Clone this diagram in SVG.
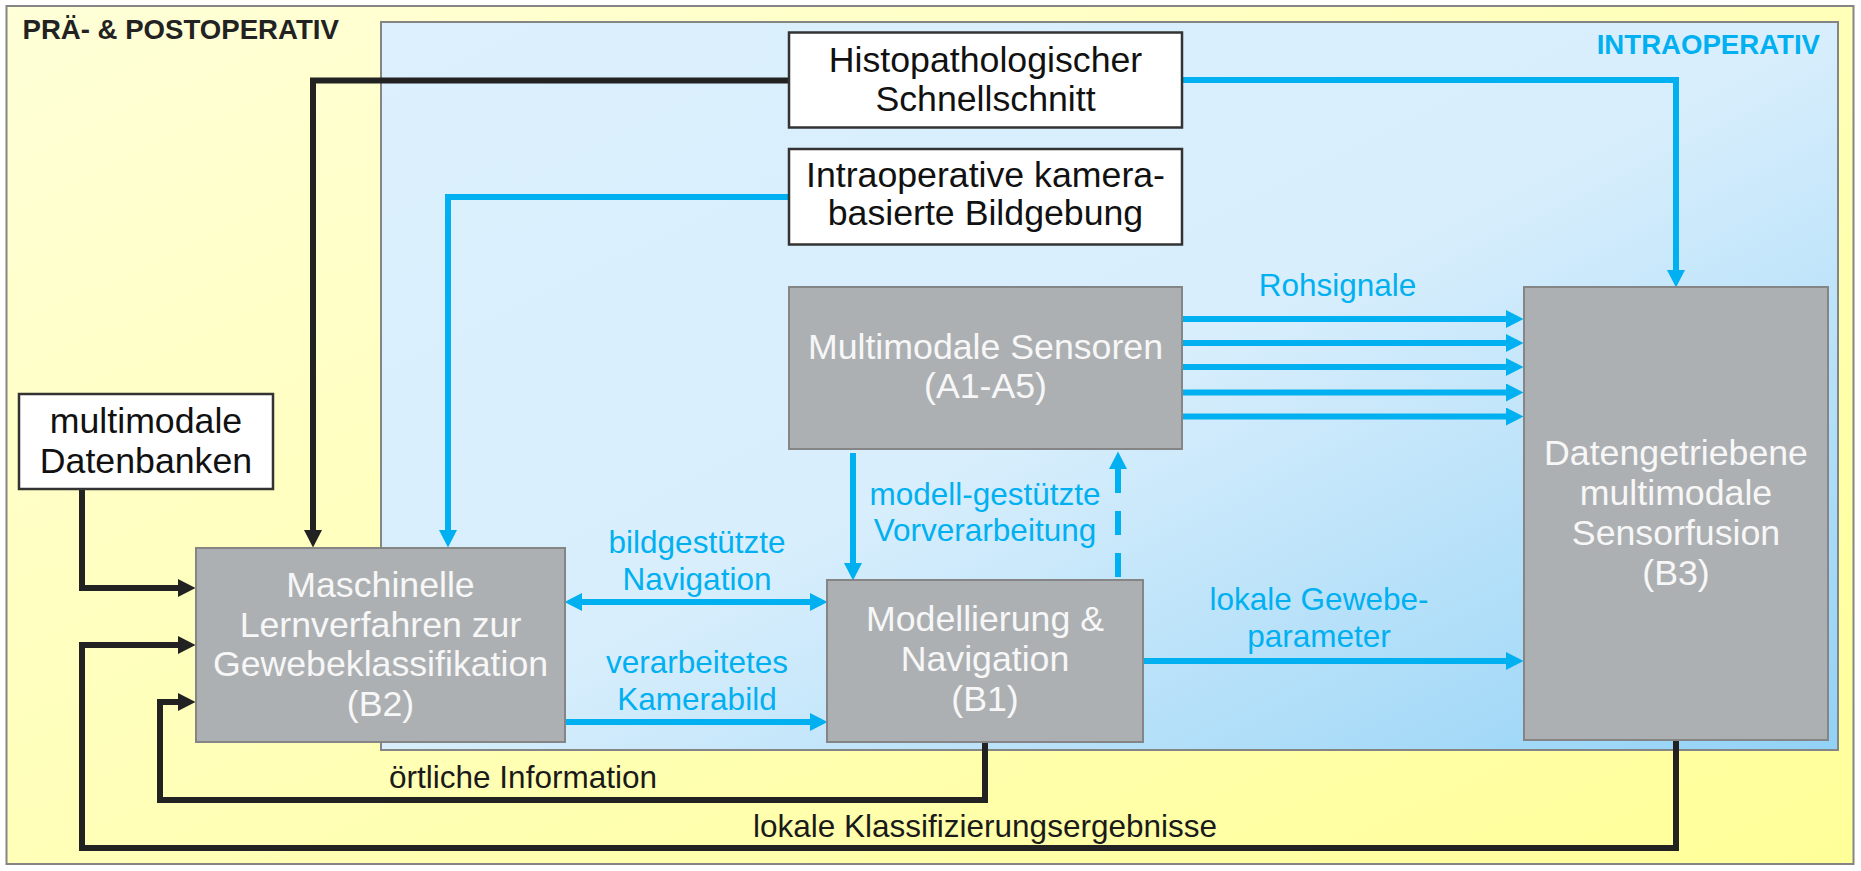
<svg xmlns="http://www.w3.org/2000/svg" width="1861" height="871" viewBox="0 0 1861 871">
  <defs>
    <linearGradient id="gYellow" x1="0" y1="0" x2="1" y2="1">
      <stop offset="0" stop-color="#ffffd8"/>
      <stop offset="1" stop-color="#ffff99"/>
    </linearGradient>
    <linearGradient id="gBlue" x1="0" y1="0" x2="1" y2="1">
      <stop offset="0" stop-color="#dcf0fd"/>
      <stop offset="0.5" stop-color="#d8eefc"/>
      <stop offset="1" stop-color="#92d2f6"/>
    </linearGradient>
    <marker id="aBlue" markerUnits="userSpaceOnUse" markerWidth="18" markerHeight="18" refX="0" refY="9" orient="auto-start-reverse" viewBox="0 0 18 18">
      <path d="M0,0 L17.5,9 L0,18 Z" fill="#00b0f0"/>
    </marker>
    <marker id="aBlack" markerUnits="userSpaceOnUse" markerWidth="18" markerHeight="18" refX="0" refY="9" orient="auto-start-reverse" viewBox="0 0 18 18">
      <path d="M0,0 L17.5,9 L0,18 Z" fill="#222222"/>
    </marker>
    <style>
      .white rect { fill: #ffffff; stroke: #333333; stroke-width: 2.5; }
      .gray rect { fill: #adb0b3; stroke: #858585; stroke-width: 2; }
      .node text { font-family: "Liberation Sans", Arial, sans-serif; font-size: 35.7px; text-anchor: middle; }
      .white text { fill: #111111; }
      .gray text { fill: #f7f7f7; }
      .lbl { font-family: "Liberation Sans", Arial, sans-serif; font-size: 31.5px; text-anchor: middle; fill: #00b0f0; }
      .lblk { font-family: "Liberation Sans", Arial, sans-serif; font-size: 31.5px; text-anchor: middle; fill: #1a1a1a; }
      .title { font-family: "Liberation Sans", Arial, sans-serif; font-size: 27.6px; font-weight: bold; }
      .cb { fill: none; stroke: #00b0f0; stroke-width: 6; marker-end: url(#aBlue); }
      .ck { fill: none; stroke: #222222; stroke-width: 6; marker-end: url(#aBlack); }
    </style>
  </defs>

  <g id="regions">
    <rect x="6.5" y="6" width="1847" height="858" fill="url(#gYellow)" stroke="#858585" stroke-width="2"/>
    <rect x="381" y="22" width="1457" height="728" fill="url(#gBlue)" stroke="#858585" stroke-width="2"/>
    <text class="title" x="22.5" y="39" fill="#222222">PRÄ- &amp; POSTOPERATIV</text>
    <text class="title" x="1820" y="54" fill="#00b0f0" text-anchor="end">INTRAOPERATIV</text>
  </g>

  <g id="connectors">
    <!-- black -->
    <path class="ck" d="M789,80.5 H313 V530"/>
    <path class="ck" d="M82,489 V588 H178"/>
    <path class="ck" d="M1676,740 V848 H82 V645 H178"/>
    <path class="ck" d="M985,742 V800 H160 V702 H178"/>
    <!-- blue -->
    <path class="cb" d="M1182,80 H1676 V270"/>
    <path class="cb" d="M789,197 H448 V530"/>
    <path class="cb" d="M1182,319 H1506"/>
    <path class="cb" d="M1182,343 H1506"/>
    <path class="cb" d="M1182,367 H1506"/>
    <path class="cb" d="M1182,392.5 H1506"/>
    <path class="cb" d="M1182,416.5 H1506"/>
    <path class="cb" d="M853,453 V563"/>
    <path class="cb" d="M1118,577 V469" stroke-dasharray="24 18"/>
    <path class="cb" d="M582,602 H810" marker-start="url(#aBlue)"/>
    <path class="cb" d="M565,722 H810"/>
    <path class="cb" d="M1143,661 H1506"/>
    <!-- labels -->
    <text class="lbl" x="1337.5" y="296">Rohsignale</text>
    <text class="lbl" x="985" y="505">modell-gestützte</text>
    <text class="lbl" x="985" y="541">Vorverarbeitung</text>
    <text class="lbl" x="697" y="553">bildgestützte</text>
    <text class="lbl" x="697" y="590">Navigation</text>
    <text class="lbl" x="697" y="673">verarbeitetes</text>
    <text class="lbl" x="697" y="710">Kamerabild</text>
    <text class="lbl" x="1319" y="610">lokale Gewebe-</text>
    <text class="lbl" x="1319" y="647">parameter</text>
    <text class="lblk" x="523" y="787.5">örtliche Information</text>
    <text class="lblk" x="985" y="836.5">lokale Klassifizierungsergebnisse</text>
  </g>

  <g id="histo" class="node white">
    <rect x="789" y="32.5" width="393" height="95"/>
    <text x="985.5" y="72.3">Histopathologischer</text>
    <text x="985.5" y="111">Schnellschnitt</text>
  </g>

  <g id="kamera" class="node white">
    <rect x="789" y="149" width="393" height="95.5"/>
    <text x="985.5" y="187">Intraoperative kamera-</text>
    <text x="985.5" y="225">basierte Bildgebung</text>
  </g>

  <g id="datenbanken" class="node white">
    <rect x="19" y="394" width="254" height="95"/>
    <text x="146" y="433.3">multimodale</text>
    <text x="146" y="473">Datenbanken</text>
  </g>

  <g id="sensoren" class="node gray">
    <rect x="789" y="287" width="393" height="162"/>
    <text x="985.5" y="359">Multimodale Sensoren</text>
    <text x="985.5" y="398">(A1-A5)</text>
  </g>

  <g id="b3" class="node gray">
    <rect x="1524" y="287" width="304" height="453"/>
    <text x="1676" y="465">Datengetriebene</text>
    <text x="1676" y="505">multimodale</text>
    <text x="1676" y="545">Sensorfusion</text>
    <text x="1676" y="585">(B3)</text>
  </g>

  <g id="b2" class="node gray">
    <rect x="196" y="548" width="369" height="194"/>
    <text x="380.5" y="597">Maschinelle</text>
    <text x="380.5" y="636.5">Lernverfahren zur</text>
    <text x="380.5" y="676">Gewebeklassifikation</text>
    <text x="380.5" y="715.5">(B2)</text>
  </g>

  <g id="b1" class="node gray">
    <rect x="827" y="580" width="316" height="162"/>
    <text x="985" y="631">Modellierung &amp;</text>
    <text x="985" y="671">Navigation</text>
    <text x="985" y="711">(B1)</text>
  </g>
</svg>
